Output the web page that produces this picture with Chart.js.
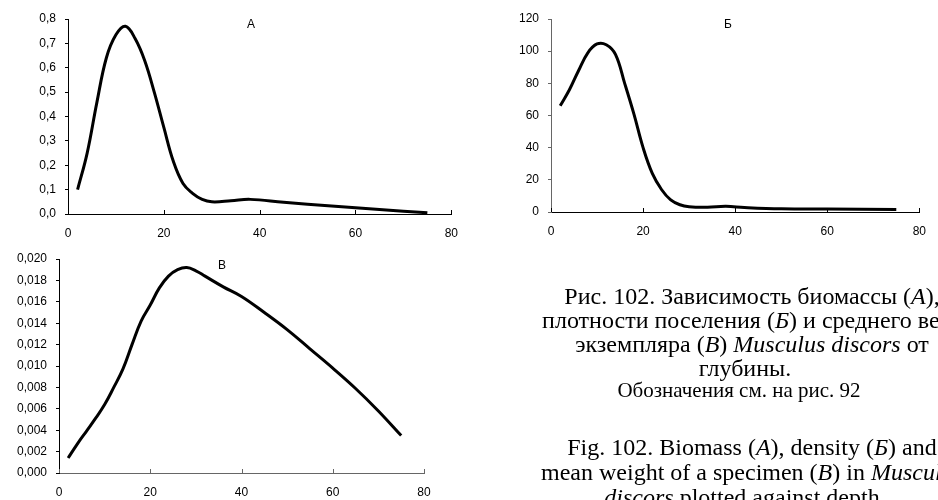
<!DOCTYPE html>
<html>
<head>
<meta charset="utf-8">
<script src="https://cdn.jsdelivr.net/npm/chart.js@4"></script>
<style>
  html, body { margin:0; padding:0; background:#fff; }
  body { width:938px; height:500px; overflow:hidden; position:relative; }
  .panel { position:absolute; }
  .tag { position:absolute; font-family:"Liberation Sans", Arial, sans-serif; font-size:12px; color:#000; transform:translate(-50%,-50%); white-space:nowrap; }
  .cap { position:absolute; left:352px; width:800px; text-align:center; font-family:"Liberation Serif","Times New Roman",serif; font-size:24px; color:#000; white-space:nowrap; line-height:1; transform:translateY(-50%); }
  .cap.small { font-size:21px; left:339px; }
  .cap.mid { left:345px; }
</style>
</head>
<body>
<div class="panel" style="left:0;top:0;"><canvas id="cA" width="470" height="240"></canvas></div>
<div class="panel" style="left:470px;top:0;"><canvas id="cB" width="468" height="240"></canvas></div>
<div class="panel" style="left:0;top:240px;"><canvas id="cC" width="470" height="260"></canvas></div>

<div class="tag" style="left:251px;top:24px;">А</div>
<div class="tag" style="left:728px;top:24px;">Б</div>
<div class="tag" style="left:222px;top:265px;">В</div>

<div class="cap" style="top:296px;">Рис. 102. Зависимость биомассы (<i>А</i>),</div>
<div class="cap" style="top:320px;">плотности поселения (<i>Б</i>) и среднего веса</div>
<div class="cap" style="top:344px;">экземпляра (<i>В</i>) <i>Musculus discors</i> от</div>
<div class="cap mid" style="top:368px;">глубины.</div>
<div class="cap small" style="top:390px;">Обозначения см. на рис. 92</div>
<div class="cap" style="top:447px;">Fig. 102. Biomass (<i>А</i>), density (<i>Б</i>) and</div>
<div class="cap" style="top:472px;">mean weight of a specimen (<i>В</i>) in <i>Musculus</i></div>
<div class="cap mid" style="top:497px;"><i>discors</i> plotted against depth.</div>

<script>
// ---- data ----
const depthTicks = [0, 20, 40, 60, 80];

const depthA   = [2, 4, 6, 8, 10, 12, 14, 16, 18, 20, 22, 24, 26, 28, 30, 34, 38, 45, 55, 65, 75];
const biomassA = [0.10, 0.25, 0.455, 0.64, 0.735, 0.77, 0.72, 0.63, 0.50, 0.355, 0.215, 0.125, 0.085, 0.06, 0.05, 0.054, 0.06, 0.048, 0.033, 0.018, 0.005];

const depthB   = [2, 4, 6, 8, 10, 12, 14, 16, 18, 20, 22, 24, 26, 28, 30, 34, 38, 42, 50, 60, 75];
const densityB = [66, 76, 88, 99, 104.5, 104, 98, 80, 61, 40, 24, 14, 7.5, 4.5, 3.3, 3, 3.5, 2.8, 2, 1.8, 1.5];

const depthC   = [2, 4, 6, 8, 10, 12, 14, 16, 18, 20, 22, 24, 26, 28, 30, 32, 36, 40, 45, 50, 55, 60, 65, 70, 75];
const weightC  = [0.0014, 0.0027, 0.0039, 0.0051, 0.0064, 0.0080, 0.0097, 0.0120, 0.0142, 0.0157, 0.0173, 0.0184, 0.0190, 0.0192, 0.0189, 0.0184, 0.0174, 0.0165, 0.0150, 0.0134, 0.0116, 0.0098, 0.0079, 0.0058, 0.0035];

const yTicksA = { min: 0, max: 0.8, step: 0.1, decimals: 1 };
const yTicksB = { min: 0, max: 120, step: 20, decimals: 0 };
const yTicksC = { min: 0, max: 0.020, step: 0.002, decimals: 3 };

// ---- chart building ----
const innerXTicks = {
  id: 'innerXTicks',
  afterDraw(chart) {
    const x = chart.scales.x, y = chart.scales.y;
    const ctx = chart.ctx;
    ctx.save();
    ctx.strokeStyle = chart.options.plugins.innerXTicks.color;
    ctx.lineWidth = 1;
    depthTicks.forEach(v => {
      const px = Math.round(x.getPixelForValue(v)) + 0.5;
      ctx.beginPath();
      ctx.moveTo(px, y.bottom);
      ctx.lineTo(px, y.bottom - 4);
      ctx.stroke();
    });
    ctx.restore();
  }
};

function makeChart(id, xs, ys, yt, geo) {
  const pts = xs.map((v, i) => ({ x: v, y: ys[i] }));
  return new Chart(document.getElementById(id), {
    type: 'line',
    data: { datasets: [{
      data: pts,
      borderColor: '#000',
      borderWidth: 3,
      pointRadius: 0,
      fill: false,
      tension: 0.4
    }]},
    options: {
      responsive: false,
      animation: false,
      events: [],
      layout: { padding: { top: geo.top, right: geo.right, left: 0, bottom: 0 } },
      plugins: { legend: { display: false }, tooltip: { enabled: false }, innerXTicks: { color: geo.xColor } },
      scales: {
        x: {
          type: 'linear', min: 0, max: 80,
          afterBuildTicks: s => { s.ticks = depthTicks.map(v => ({ value: v })); },
          afterFit: s => { s.height = geo.xh; },
          grid: { display: true, drawOnChartArea: false, drawTicks: false },
          border: { color: geo.xColor, width: 1 },
          ticks: { padding: 12, color: '#000', font: { family: '"Liberation Sans", Arial, sans-serif', size: 12 }, maxRotation: 0 }
        },
        y: {
          type: 'linear', min: yt.min, max: yt.max,
          afterBuildTicks: s => {
            const t = [];
            const n = Math.round((yt.max - yt.min) / yt.step);
            for (let i = 0; i <= n; i++) t.push({ value: yt.min + i * yt.step });
            s.ticks = t;
          },
          afterFit: s => { s.width = geo.yw; },
          grid: { display: true, drawOnChartArea: false, drawTicks: true, tickLength: 3, color: geo.yColor },
          border: { color: geo.yColor, width: 1 },
          ticks: {
            padding: 9, color: '#000',
            font: { family: '"Liberation Sans", Arial, sans-serif', size: 12 },
            callback: v => Number(v).toFixed(yt.decimals).replace('.', ',')
          }
        }
      }
    },
    plugins: [innerXTicks]
  });
}

makeChart('cA', depthA, biomassA, yTicksA, { top: 19, right: 16, xh: 26, yw: 68, xColor: '#000', yColor: '#000' });
makeChart('cB', depthB, densityB, yTicksB, { top: 19, right: 8,  xh: 28, yw: 81, xColor: '#000', yColor: '#666' });
makeChart('cC', depthC, weightC,  yTicksC, { top: 19, right: 46, xh: 27, yw: 59, xColor: '#666', yColor: '#000' });
</script>
</body>
</html>
